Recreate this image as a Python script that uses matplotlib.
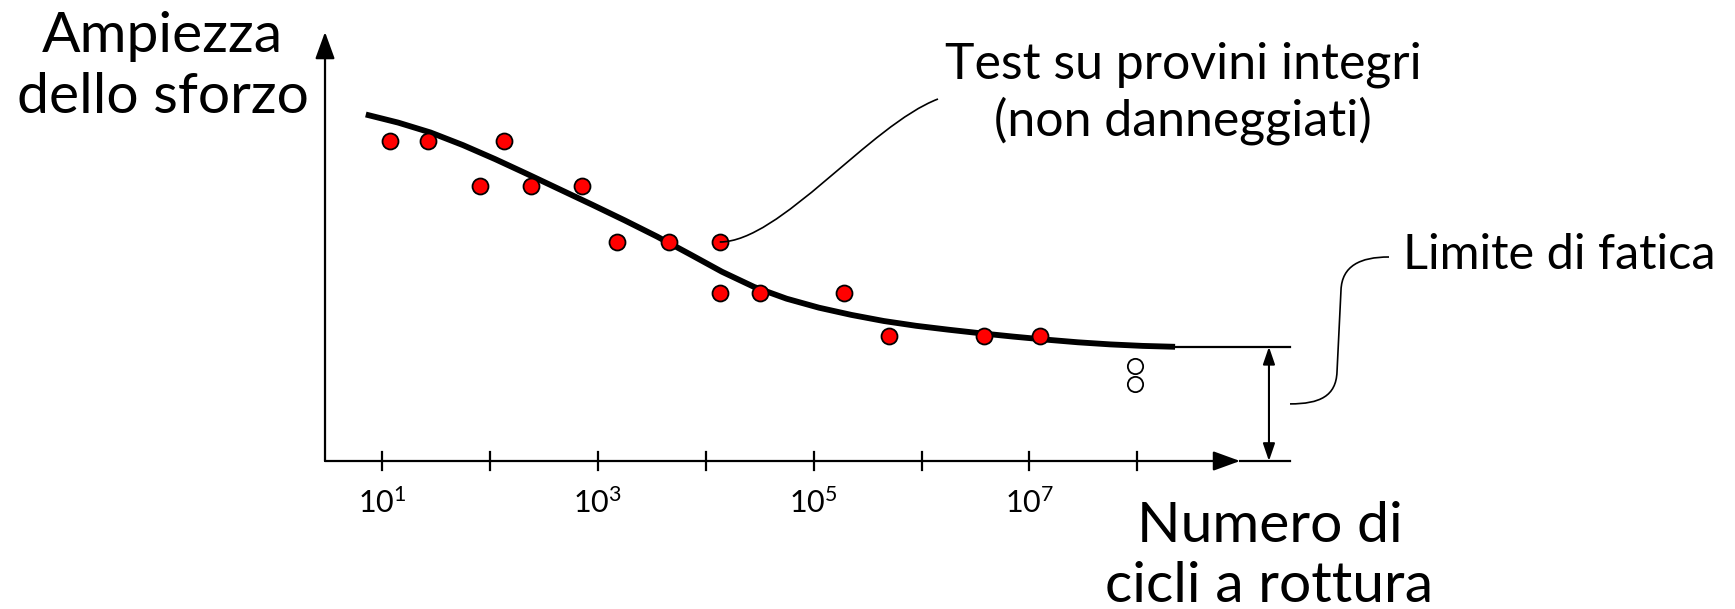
import numpy as np
import matplotlib.pyplot as plt
from matplotlib.patches import FancyArrowPatch, PathPatch, ArrowStyle
from matplotlib.path import Path

plt.rcParams['font.family'] = ['Lato', 'DejaVu Sans']
plt.rcParams['mathtext.fontset'] = 'custom'
plt.rcParams['mathtext.rm'] = 'Lato'

W, H = 1735, 609

# prove a rottura (log10 N, ampiezza dello sforzo in unita' arbitrarie)
log_N_prove = [1.07, 1.43, 1.91, 2.13, 2.38, 2.85, 3.18, 3.66, 4.13,
               4.13, 4.50, 5.28, 5.70, 6.58, 7.10]
S_prove = [320, 320, 275, 320, 275, 275, 219, 219, 219,
           168, 168, 168, 125, 125, 125]
# provini non rotti
log_N_run_out = [7.98, 7.98]
S_run_out = [95.5, 77]
# curva S-N
log_N_curva = [0.85, 1.15, 1.45, 1.75, 2.05, 2.35, 2.65, 2.95, 3.25, 3.55,
               3.85, 4.15, 4.45, 4.75, 5.05, 5.35, 5.65, 5.95, 6.25, 6.55,
               6.85, 7.15, 7.45, 7.75, 8.05, 8.35]
S_curva = [346.5, 338.4, 328.5, 315.9, 301.8, 286.8, 271.5, 256.2, 240.6, 224.4,
           207.0, 189.3, 174.0, 162.3, 153.3, 146.1, 140.0, 135.2, 131.3, 127.7,
           124.4, 121.4, 118.7, 116.6, 115.1, 114.2]
S_limite = 114.2
decadi = [1, 2, 3, 4, 5, 6, 7, 8]
decadi_etichetta = [1, 3, 5, 7]


def pix(x, y):
    # pixel (origine in alto a sinistra) -> frazione di figura
    return x / W, 1 - y / H


fig = plt.figure(figsize=(W / 100, H / 100), dpi=100)
ax = fig.add_axes([0, 0, 1, 1])
ax.set_xscale('log')
ax.set_xlim(10 ** -2.540, 10 ** 13.539)
ax.set_ylim(-148, 461)
ax.axis('off')

x0 = 10 ** 0.472      # asse verticale
x_freccia = 10 ** 8.952
x_fine = 10 ** 9.415
x_quota = 10 ** 9.22

# assi con frecce
arr_big = ArrowStyle('-|>', head_length=16.5, head_width=6)
ax.add_patch(FancyArrowPatch((x0, 0), (x_freccia, 0), arrowstyle=arr_big,
                             mutation_scale=1, lw=1.6, color='k',
                             shrinkA=0, shrinkB=0))
ax.add_patch(FancyArrowPatch((x0, 0), (x0, 429), arrowstyle=arr_big,
                             mutation_scale=1, lw=1.6, color='k',
                             shrinkA=0, shrinkB=0))
ax.plot([x_freccia, x_fine], [0, 0], c='k', lw=1.6)

# tacche
for d in decadi:
    ax.plot([10 ** d, 10 ** d], [-9, 9], c='k', lw=1.6)
for d in decadi_etichetta:
    ax.text(10 ** d, -52, r'$\mathregular{10^{%d}}$' % d, fontsize=22,
            ha='center', va='baseline')

# limite di fatica
ax.plot([10 ** log_N_curva[-1], x_fine], [S_limite, S_limite], c='k', lw=1.6)
arr_small = ArrowStyle('<|-|>', head_length=10.5, head_width=3.6)
ax.add_patch(FancyArrowPatch((x_quota, 0), (x_quota, S_limite),
                             arrowstyle=arr_small, mutation_scale=1,
                             lw=1.5, color='k', shrinkA=0, shrinkB=0))

# curva e punti
ax.plot(10 ** np.array(log_N_curva), S_curva, c='k', lw=4.2,
        solid_capstyle='butt', solid_joinstyle='round', zorder=3)
ax.plot(10 ** np.array(log_N_prove), S_prove, 'o', ms=11.5, mfc='#ff0000',
        mec='k', mew=1.3, zorder=4)
ax.plot(10 ** np.array(log_N_run_out), S_run_out, 'o', ms=11, mfc='white',
        mec='k', mew=1.3, zorder=4)

# richiami
xd, yd = ax.transData.transform((10 ** log_N_prove[8], S_prove[8]))
p0 = (xd, H - yd)
verts = [pix(*p0), pix(780, p0[1]), pix(870, 125), pix(938, 99)]
path = Path(verts, [Path.MOVETO, Path.CURVE4, Path.CURVE4, Path.CURVE4])
fig.patches.append(PathPatch(path, fc='none', ec='k', lw=1.2,
                             transform=fig.transFigure, zorder=2))

xl, yl = ax.transData.transform((x_fine, S_limite / 2))
q0 = (xl, H - yl)
verts = [pix(*q0), pix(1320, q0[1]), pix(1336, 396), pix(1337, 372),
         pix(1341, 290), pix(1342, 266), pix(1360, 257), pix(1389, 257)]
codes = [Path.MOVETO, Path.CURVE4, Path.CURVE4, Path.CURVE4,
         Path.LINETO, Path.CURVE4, Path.CURVE4, Path.CURVE4]
fig.patches.append(PathPatch(Path(verts, codes), fc='none', ec='k', lw=1.2,
                             transform=fig.transFigure))

# testi
fig.text(*pix(162, 52), 'Ampiezza', fontsize=41, ha='center', va='baseline')
fig.text(*pix(163, 113), 'dello sforzo', fontsize=41, ha='center', va='baseline')
fig.text(*pix(1270, 542), 'Numero di', fontsize=41, ha='center', va='baseline')
fig.text(*pix(1269, 602), 'cicli a rottura', fontsize=41, ha='center', va='baseline')
fig.text(*pix(1183, 78), 'Test su provini integri', fontsize=36,
         ha='center', va='baseline')
fig.text(*pix(1183, 135), '(non danneggiati)', fontsize=36,
         ha='center', va='baseline')
fig.text(*pix(1403, 269), 'Limite di fatica', fontsize=35,
         ha='left', va='baseline')

plt.savefig('out.png', dpi=100)
plt.close()
